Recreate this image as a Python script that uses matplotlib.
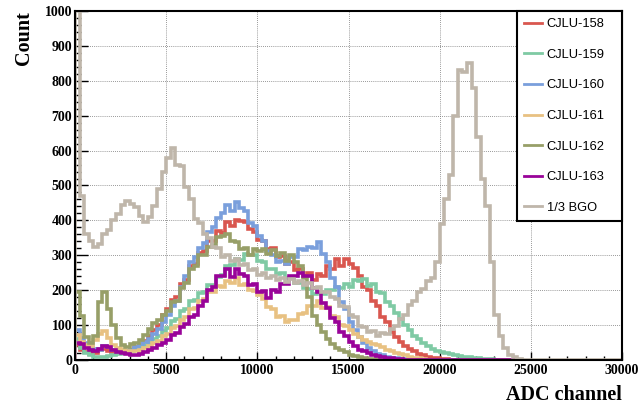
import numpy as np
import matplotlib.pyplot as plt
from matplotlib.lines import Line2D
from matplotlib.ticker import MultipleLocator

# ADC spectra, bin width 250 channels, counts per bin
bin_width = 250

labels = ["CJLU-158", "CJLU-159", "CJLU-160", "CJLU-161", "CJLU-162", "CJLU-163", "1/3 BGO"]
colors = ["#d9574f", "#7fcaa4", "#7a9fdc", "#e8c182", "#979f68", "#990399", "#bfb6aa"]

cjlu158 = [42, 30, 22, 18, 20, 28, 32, 26, 22, 20,
           22, 26, 30, 36, 42, 55, 68, 85, 100, 128,
           145, 172, 180, 218, 230, 270, 275, 308, 312, 342,
           340, 370, 365, 395, 385, 402, 398, 395, 375, 368,
           345, 342, 318, 322, 295, 298, 275, 280, 258, 262,
           240, 248, 228, 245, 240, 270, 262, 290, 270, 288,
           275, 265, 240, 210, 200, 170, 155, 122, 110, 80,
           65, 52, 40, 32, 25, 18, 13, 10, 7, 5,
           3, 2, 1]

cjlu159 = [60, 35, 20, 14, 10, 9, 10, 12, 14, 16,
           20, 22, 25, 30, 36, 42, 50, 60, 70, 82,
           92, 112, 118, 140, 146, 170, 172, 192, 196, 215,
           216, 238, 244, 268, 272, 290, 286, 305, 300, 302,
           285, 282, 260, 262, 245, 250, 236, 235, 220, 222,
           205, 204, 188, 195, 190, 202, 200, 208, 205, 218,
           210, 230, 225, 232, 212, 218, 195, 192, 165, 155,
           135, 118, 100, 85, 70, 60, 50, 40, 32, 26,
           22, 19, 17, 14, 12, 10, 8, 7, 5, 4,
           3, 2, 1]

cjlu160 = [85, 62, 48, 38, 32, 30, 40, 36, 30, 28,
           26, 27, 30, 36, 45, 52, 60, 75, 90, 110,
           128, 155, 170, 210, 240, 282, 295, 322, 335, 368,
           380, 408, 420, 445, 428, 452, 436, 428, 392, 385,
           355, 340, 312, 302, 280, 284, 276, 295, 296, 318,
           315, 325, 320, 338, 305, 282, 235, 210, 165, 145,
           110, 85, 65, 48, 33, 25, 18, 13, 10, 7,
           5, 3, 2, 1, 1]

cjlu161 = [72, 52, 42, 40, 58, 75, 82, 62, 42, 35,
           30, 27, 25, 26, 30, 35, 40, 48, 55, 68,
           75, 92, 97, 116, 122, 145, 148, 170, 175, 195,
           196, 212, 208, 226, 220, 234, 216, 218, 200, 198,
           185, 176, 152, 145, 122, 126, 110, 115, 114, 132,
           135, 155, 155, 170, 150, 152, 125, 122, 100, 98,
           85, 75, 65, 58, 52, 46, 42, 36, 30, 25,
           20, 16, 13, 10, 7, 5, 3]

cjlu162 = [195, 125, 65, 48, 70, 165, 195, 145, 100, 62,
           42, 38, 45, 50, 58, 72, 90, 105, 115, 130,
           140, 165, 170, 205, 220, 262, 270, 300, 300, 325,
           330, 352, 355, 362, 340, 338, 318, 322, 300, 318,
           312, 318, 305, 315, 298, 308, 285, 300, 280, 270,
           235, 180, 125, 100, 80, 60, 45, 35, 28, 22,
           15, 12, 8, 5, 4, 2, 1]

cjlu163 = [50, 45, 35, 28, 25, 32, 40, 38, 28, 22,
           20, 16, 14, 15, 18, 22, 28, 35, 42, 50,
           58, 72, 78, 94, 102, 122, 130, 155, 168, 200,
           210, 242, 240, 262, 238, 262, 245, 242, 215, 218,
           195, 198, 178, 200, 195, 218, 218, 242, 242, 250,
           240, 242, 205, 195, 162, 150, 120, 110, 80, 70,
           52, 40, 30, 25, 20, 15, 12, 9, 7, 5,
           4, 2, 1]

bgo = [1050, 470, 360, 340, 325, 332, 360, 372, 400, 418,
       445, 455, 448, 438, 412, 395, 410, 440, 490, 540,
       580, 608, 560, 555, 495, 462, 405, 392, 360, 350,
       325, 322, 295, 302, 284, 288, 272, 274, 258, 262,
       244, 250, 236, 242, 228, 236, 224, 232, 220, 226,
       215, 220, 205, 210, 196, 194, 180, 176, 154, 152,
       128, 122, 96, 94, 80, 82, 70, 76, 75, 90,
       96, 118, 128, 158, 168, 195, 204, 226, 236, 282,
       390, 460, 530, 700, 830, 825, 850, 780, 640, 520,
       440, 280, 130, 70, 35, 15, 8, 3, 1, 0]

series = [cjlu158, cjlu159, cjlu160, cjlu161, cjlu162, cjlu163, bgo]
n_bins = [98, 98, 98, 98, 98, 98, 120]   # CJLU histos stop at 24500, BGO runs to 30000

fig = plt.figure(figsize=(6.41, 4.09), dpi=100)
ax = fig.add_axes([75/641, 49/409, 547/641, 349/409])

for vals, n, c in zip(series, n_bins, colors):
    v = np.zeros(n)
    v[:len(vals)] = vals
    edges = np.arange(n + 1) * bin_width
    ax.stairs(v, edges, color=c, lw=2.6, baseline=0)

ax.set_xlim(0, 30000)
ax.set_ylim(0, 1000)
ax.set_xticks(range(0, 30001, 5000))
ax.set_yticks(range(0, 1001, 100))
ax.xaxis.set_minor_locator(MultipleLocator(1000))
ax.yaxis.set_minor_locator(MultipleLocator(20))
ax.tick_params(axis='x', which='major', direction='in', length=6, width=1, pad=3)
ax.tick_params(axis='x', which='minor', direction='in', length=3, width=1)
ax.tick_params(axis='y', which='major', direction='in', length=9, width=1, pad=2)
ax.tick_params(axis='y', which='minor', direction='in', length=4, width=1)
for lab in ax.get_xticklabels() + ax.get_yticklabels():
    lab.set_family('Liberation Serif')
    lab.set_fontweight('bold')
    lab.set_fontsize(10)

ax.grid(True, which='major', linestyle=(0, (1, 1.5)), color='#777777', lw=0.6)
ax.set_axisbelow(True)
for s in ax.spines.values():
    s.set_linewidth(1.5)

ax.set_xlabel("ADC channel", loc='right', fontsize=14.5, fontweight='bold',
              family='Liberation Serif', labelpad=6)
ax.set_ylabel("Count", loc='top', fontsize=14.5, fontweight='bold',
              family='Liberation Serif', labelpad=8)

handles = [Line2D([], [], color=c, lw=2) for c in colors]
x0 = (517 - 75) / 547
leg = ax.legend(handles, labels, loc='upper left', bbox_to_anchor=(x0, 0, 1 - x0, 1),
                mode='expand', borderaxespad=0, fancybox=False, edgecolor='black',
                framealpha=1, prop={'family': 'Liberation Sans', 'size': 9.3},
                labelspacing=1.44, handlelength=1.4, handletextpad=0.35, borderpad=0.55)
leg.get_frame().set_linewidth(1.5)

fig.savefig("out.png", dpi=100)
